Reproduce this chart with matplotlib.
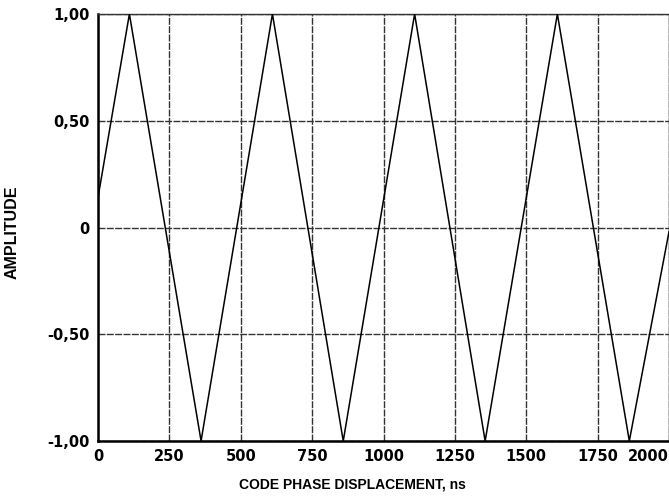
import matplotlib
matplotlib.use("Agg")
import matplotlib.pyplot as plt

# vertices of the triangle wave
phase_ns = [0, 110, 361, 611, 859, 1109, 1356, 1609, 1861, 2000]
amplitude = [0.14, 1.0, -1.0, 1.0, -1.0, 1.0, -1.0, 1.0, -1.0, -0.02]

x_ticks = [0, 250, 500, 750, 1000, 1250, 1500, 1750, 2000]
x_tick_labels = ['0', '250', '500', '750', '1000', '1250', '1500', '1750', '2000']
y_ticks = [-1.0, -0.5, 0.0, 0.5, 1.0]
y_tick_labels = ['-1,00', '-0,50', '0', '0,50', '1,00']

plt.rcParams['font.family'] = ['DejaVu Sans']

fig = plt.figure(figsize=(6.69, 5.01), dpi=100)
ax = fig.add_axes([98 / 669, 1 - 441 / 501, 1 - 98 / 669, (441 - 14) / 501])

ax.plot(phase_ns, amplitude, color='black', linewidth=1.1, zorder=3)

ax.set_xlim(0, 2000)
ax.set_ylim(-1.0, 1.0)
ax.set_xticks(x_ticks)
ax.set_xticklabels(x_tick_labels, fontsize=10.5, fontweight='bold')
ax.set_yticks(y_ticks)
ax.set_yticklabels(y_tick_labels, fontsize=10.5, fontweight='bold')
ax.tick_params(length=0, pad=6)
ax.get_xticklabels()[-1].set_horizontalalignment('right')

ax.grid(True, color='#333333', linewidth=1.0, linestyle=(0, (5, 1)))
for side in ['left', 'bottom']:
    ax.spines[side].set_linewidth(1.8)
for side in ['top', 'right']:
    ax.spines[side].set_linewidth(1.0)
    ax.spines[side].set_linestyle((0, (5, 1)))
    ax.spines[side].set_color('#333333')

ax.set_xlabel('CODE PHASE DISPLACEMENT, ns', fontsize=10, fontfamily='Liberation Sans',
              fontweight='bold')
ax.xaxis.set_label_coords(0.445, -0.085)
ax.set_ylabel('AMPLITUDE', fontsize=11.5, fontfamily='Liberation Sans', fontweight='bold')
ax.yaxis.set_label_coords(-0.137, 0.49)

fig.savefig('out.png', dpi=100)
